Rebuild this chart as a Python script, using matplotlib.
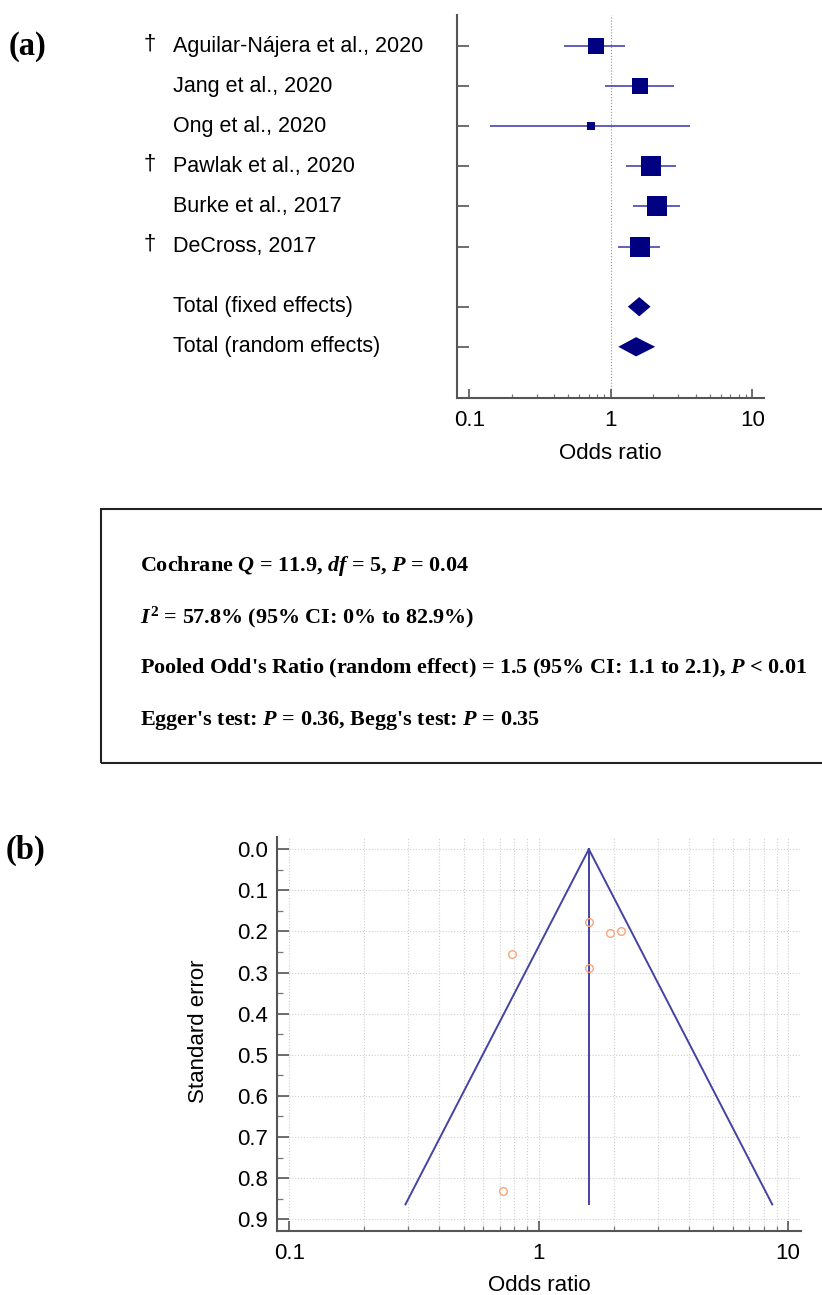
import matplotlib
matplotlib.use("Agg")
import matplotlib.pyplot as plt
import matplotlib.transforms as mtransforms
from matplotlib.patches import Polygon, Rectangle
from matplotlib.ticker import FixedLocator, NullFormatter
import numpy as np

plt.rcParams['font.family'] = ['Liberation Sans', 'DejaVu Sans']
plt.rcParams['mathtext.fontset'] = 'custom'
plt.rcParams['mathtext.rm'] = 'Liberation Serif:bold'
plt.rcParams['mathtext.it'] = 'Liberation Serif:italic:bold'
plt.rcParams['mathtext.bf'] = 'Liberation Serif:bold'

# study level data (forest plot + funnel plot)
studies = ["Aguilar-Nájera et al., 2020", "Jang et al., 2020", "Ong et al., 2020",
           "Pawlak et al., 2020", "Burke et al., 2017", "DeCross, 2017"]
dagger = [True, False, False, True, False, True]
odds = [0.78, 1.60, 0.72, 1.93, 2.12, 1.60]
ci_low = [0.47, 0.91, 0.14, 1.29, 1.44, 1.13]
ci_high = [1.27, 2.79, 3.62, 2.87, 3.11, 2.24]
weight = [16.1, 15.2, 3.6, 21.2, 22.3, 21.6]   # % weight -> box area
std_err = [0.255, 0.288, 0.831, 0.203, 0.200, 0.178]
funnel_or = [0.78, 1.595, 0.72, 1.94, 2.14, 1.595]

pooled_labels = ["Total (fixed effects)", "Total (random effects)"]
pooled_or = [1.59, 1.51]
pooled_low = [1.32, 1.13]
pooled_high = [1.91, 2.06]

funnel_center = 1.59
funnel_se_max = 0.864

stats_lines = [
    r"Cochrane $Q$ = 11.9, $df$ = 5, $P$ = 0.04",
    r"$I^2$ = 57.8% (95% CI: 0% to 82.9%)",
    r"Pooled Odd's Ratio (random effect) = 1.5 (95% CI: 1.1 to 2.1), $P$ < 0.01",
    r"Egger's test: $P$ = 0.36, Begg's test: $P$ = 0.35",
]

W, H = 822, 1295
fig = plt.figure(figsize=(W / 100, H / 100), dpi=100)


def px_axes(l, t, r, b):
    return fig.add_axes([l / W, 1 - b / H, (r - l) / W, (b - t) / H])


spine_col = '#555555'
navy = '#000080'
minor_or = [0.2, 0.3, 0.4, 0.5, 0.6, 0.7, 0.8, 0.9, 2, 3, 4, 5, 6, 7, 8, 9]

# ---------------- (a) forest plot ----------------
ax1 = px_axes(456.7, 15, 764, 398.3)
ax1.set_xscale('log')
ax1.set_xlim(10 ** -1.089, 10 ** 1.083)
ax1.set_ylim(8.785, -0.775)

rows = np.arange(len(studies))
pooled_rows = [6.5, 7.5]

ax1.axvline(1, color='#8c8cd0', lw=0.8, ls=':', zorder=1)
ax1.hlines(rows, ci_low, ci_high, color='#3535a5', lw=1.1, zorder=2)
side = 14.4 * np.sqrt(np.array(weight) / max(weight))
for i in range(len(studies)):
    ax1.plot(odds[i], rows[i], 's', ms=side[i], color=navy, mew=0, zorder=3)

for k in range(2):
    r = pooled_rows[k]
    ax1.add_patch(Polygon([[pooled_low[k], r], [pooled_or[k], r - 0.24],
                           [pooled_high[k], r], [pooled_or[k], r + 0.24]],
                          closed=True, fc=navy, ec='none', zorder=3))

for s in ['top', 'right']:
    ax1.spines[s].set_visible(False)
for s in ['left', 'bottom']:
    ax1.spines[s].set_color(spine_col)
    ax1.spines[s].set_linewidth(1.5)

ax1.set_yticks(list(rows) + pooled_rows)
ax1.set_yticklabels([])
ax1.tick_params(axis='y', direction='in', length=8.6, width=1.2, color=spine_col)
ax1.set_xticks([0.1, 1, 10])
ax1.set_xticklabels(["0.1", "1", "10"])
ax1.xaxis.set_minor_locator(FixedLocator(minor_or))
ax1.xaxis.set_minor_formatter(NullFormatter())
ax1.tick_params(axis='x', which='major', direction='in', length=6.5, width=1.2,
                color=spine_col, labelsize=16, pad=8.4)
ax1.tick_params(axis='x', which='minor', direction='in', length=3, width=0.9,
                color='#777777')
ax1.set_xlabel("Odds ratio", fontsize=16)
ax1.xaxis.set_label_coords(0.5, -0.1166)

trans1 = mtransforms.blended_transform_factory(fig.transFigure, ax1.transData)
for i, name in enumerate(studies):
    ax1.text(173 / W, rows[i], name, transform=trans1, fontsize=15.5,
             va='center', ha='left', clip_on=False)
    if dagger[i]:
        ax1.text(144 / W, rows[i] - 0.32, "\u2020", transform=trans1, fontsize=16,
                 va='top', ha='left', clip_on=False)
for k, name in enumerate(pooled_labels):
    ax1.text(173 / W, pooled_rows[k], name, transform=trans1, fontsize=15.5,
             va='center', ha='left', clip_on=False)

fig.text(9 / W, 1 - 46 / H, "(a)", family='Liberation Serif', weight='bold',
         fontsize=23.5, va='center', ha='left')

# ---------------- statistics box ----------------
fig.patches.append(Rectangle((101 / W, 1 - 763.3 / H), (840 - 101) / W, 254 / H,
                             transform=fig.transFigure, fill=False, lw=1.5,
                             ec='#222222'))
baselines = [570.7, 623.3, 673.3, 725]
box_txt = []
for line, yb in zip(stats_lines, baselines):
    box_txt.append(fig.text(140 / W, 1 - yb / H, line, family='Liberation Serif',
                            weight='bold', fontsize=14, va='baseline', ha='left'))
fig.canvas.draw()
rend = fig.canvas.get_renderer()
wfit = 668 / box_txt[2].get_window_extent(rend).width
for t in box_txt:
    t.set_fontsize(14 * wfit)

# ---------------- (b) funnel plot ----------------
ax2 = px_axes(277.3, 837.3, 800.7, 1230.7)
ax2.set_xscale('log')
ax2.set_xlim(10 ** -1.048, 10 ** 1.051)
ax2.set_ylim(0.928, -0.029)

se_line = np.array([0, funnel_se_max])
lo_line = np.exp(np.log(funnel_center) - 1.96 * se_line)
hi_line = np.exp(np.log(funnel_center) + 1.96 * se_line)
fcol = '#4343a3'
ax2.plot(lo_line, se_line, color=fcol, lw=1.4, zorder=3)
ax2.plot(hi_line, se_line, color=fcol, lw=1.4, zorder=3)
ax2.plot([funnel_center, funnel_center], se_line, color=fcol, lw=1.4, zorder=3)
ax2.plot(funnel_or, std_err, 'o', ms=5.5, mfc='none', mec='#f7a57a', mew=1.0,
         zorder=4)

ax2.set_xticks([0.1, 1, 10])
ax2.set_xticklabels(["0.1", "1", "10"])
ax2.xaxis.set_minor_locator(FixedLocator(minor_or))
ax2.xaxis.set_minor_formatter(NullFormatter())
ax2.set_yticks(np.round(np.arange(0, 0.95, 0.1), 1))
ax2.set_yticklabels(["%.1f" % v for v in np.arange(0, 0.95, 0.1)])
ax2.yaxis.set_minor_locator(FixedLocator(np.arange(0.05, 0.9, 0.1)))
ax2.grid(True, which='both', axis='x', color='#cfcfcf', ls=':', lw=0.8)
ax2.grid(True, which='major', axis='y', color='#cfcfcf', ls=':', lw=0.8)
ax2.set_axisbelow(True)

for s in ['top', 'right']:
    ax2.spines[s].set_visible(False)
for s in ['left', 'bottom']:
    ax2.spines[s].set_color(spine_col)
    ax2.spines[s].set_linewidth(1.5)

ax2.tick_params(axis='x', which='major', direction='in', length=7, width=1.2,
                color=spine_col, labelsize=16, pad=9.0)
ax2.tick_params(axis='x', which='minor', direction='in', length=3.5, width=0.9,
                color='#777777')
ax2.tick_params(axis='y', which='major', direction='in', length=8.6, width=1.2,
                color=spine_col, labelsize=16, pad=6.7)
ax2.tick_params(axis='y', which='minor', direction='in', length=4, width=0.9,
                color='#777777')

ax2.set_xlabel("Odds ratio", fontsize=16)
ax2.xaxis.set_label_coords(0.5, -0.113)
ax2.set_ylabel("Standard error", fontsize=16, va='center')
ax2.yaxis.set_label_coords((198 - 277.3) / 523.4, 0.508)

fig.text(6 / W, 1 - 850 / H, "(b)", family='Liberation Serif', weight='bold',
         fontsize=23.5, va='center', ha='left')

fig.savefig("out.png", dpi=100)
